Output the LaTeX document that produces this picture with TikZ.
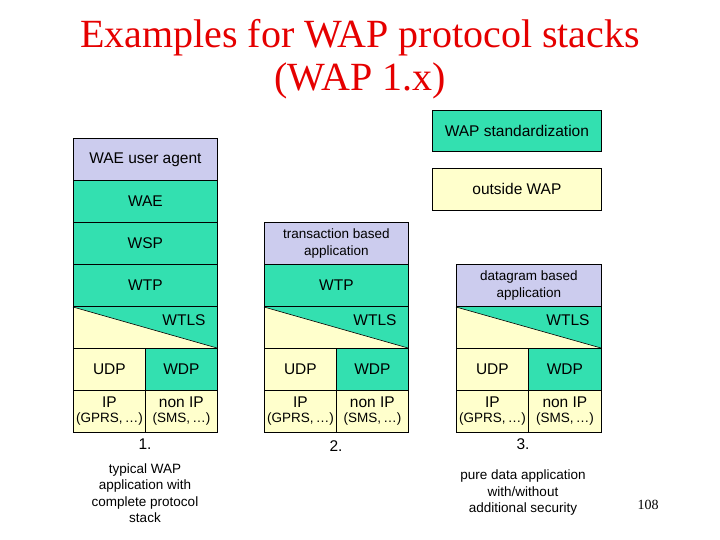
\documentclass[tikz,border=0pt]{standalone}
\usepackage{fontspec}
\setmainfont{Liberation Serif}
\newfontfamily\arialf{Liberation Sans}
\begin{document}
\begin{tikzpicture}[x=1pt,y=-1pt,
  box/.style={draw=black,line width=0.8pt,inner sep=0pt,anchor=north west,font=\arialf\fontsize{15.5}{17}\selectfont,align=center},
  gr/.style={box,fill=wgreen},ye/.style={box,fill=wyellow},la/.style={box,fill=wlav},
  lbl/.style={font=\arialf\fontsize{15.5}{17}\selectfont,align=center},
  small/.style={font=\arialf\fontsize{13.5}{16.5}\selectfont,align=center}]
\definecolor{wgreen}{RGB}{51,224,176}
\definecolor{wyellow}{RGB}{255,255,204}
\definecolor{wlav}{RGB}{204,204,238}
\useasboundingbox (0,0) rectangle (720,540);
\node[font=\fontsize{40}{43}\selectfont,text=red!90!black,align=center] (title) at (360,59) {Examples for WAP protocol stacks\\(WAP 1.x)};
% legend
\node[gr,minimum width=169pt,minimum height=41pt] (std) at (432,110) {WAP standardization};
\node[ye,minimum width=169pt,minimum height=42pt] (out) at (432,168) {outside WAP};
% stack 1
\node[la,minimum width=144pt,minimum height=42pt] (ua) at (73,138) {WAE user agent};
\node[gr,minimum width=144pt,minimum height=42pt] (wae) at (73,180) {WAE};
\node[gr,minimum width=144pt,minimum height=42pt] (wsp) at (73,222) {WSP};
\node[gr,minimum width=144pt,minimum height=42pt] (wtp1) at (73,264) {WTP};
% stack 2
\node[la,minimum width=144pt,minimum height=42pt,font=\arialf\fontsize{13.5}{16.5}\selectfont] (ta) at (264,222) {transaction based\\application};
\node[gr,minimum width=144pt,minimum height=42pt] (wtp2) at (264,264) {WTP};
% stack 3
\node[la,minimum width=145pt,minimum height=42pt,font=\arialf\fontsize{13.5}{16.5}\selectfont] (da) at (456,264) {datagram based\\application};
\foreach \n/\x/\w/\s in {1/73/144/145, 2/264/144/336, 3/456/145/528}{
  \fill[wgreen] (\x,306) rectangle ++(\w,42);
  \fill[wyellow] (\x,307) -- (\x+\w,348) -- (\x,348) -- cycle;
  \draw[line width=0.8pt] (\x,306) rectangle ++(\w,42);
  \draw[line width=0.6pt] (\x,307) -- (\x+\w,348);
  \node[lbl,anchor=east] (wtls\n) at (\x+\w-8,320) {WTLS};
  \node[ye,minimum width=\s-\x,minimum height=42pt] (udp\n) at (\x,348) {UDP};
  \node[gr,minimum width=\x+\w-\s,minimum height=42pt] (wdp\n) at (\s,348) {WDP};
  \node[ye,minimum width=\s-\x,minimum height=42pt] (ip\n) at (\x,390) {IP\\[-2pt]{\fontsize{13.5}{15}\selectfont(GPRS,\,\dots)}};
  \node[ye,minimum width=\x+\w-\s,minimum height=42pt] (nip\n) at (\s,390) {non IP\\[-2pt]{\fontsize{13.5}{15}\selectfont(SMS,\,\dots)}};
}
\node[lbl] (n1) at (145,444) {1.};
\node[lbl] (n2) at (336,446) {2.};
\node[lbl] (n3) at (523,444) {3.};
\node[small] (c1) at (145,493) {typical WAP\\application with\\complete protocol\\stack};
\node[small] (c3) at (523,493) {pure data application\\with/without\\additional security};
\node[font=\fontsize{14}{16}\selectfont] (pg) at (648,505) {108};
\end{tikzpicture}
\end{document}
